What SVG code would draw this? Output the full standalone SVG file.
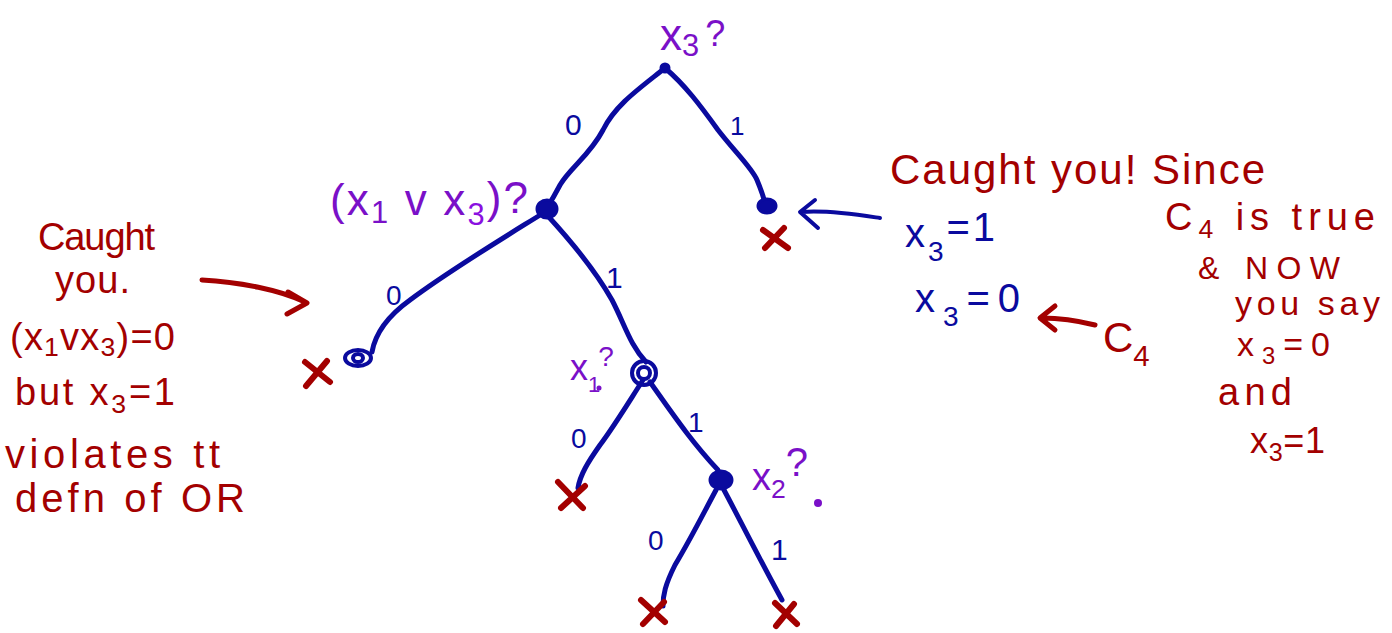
<svg xmlns="http://www.w3.org/2000/svg" width="1392" height="633" viewBox="0 0 1392 633">
<defs>
<style>
.edge{fill:none;stroke:#0a0a9e;stroke-width:5;stroke-linecap:round;stroke-linejoin:round}
.rarrow{fill:none;stroke:#a30000;stroke-width:5;stroke-linecap:round;stroke-linejoin:round}
.barrow{fill:none;stroke:#0a0a9e;stroke-width:4;stroke-linecap:round;stroke-linejoin:round}
.cross{fill:none;stroke:#a30000;stroke-width:6;stroke-linecap:round}
.dot{fill:#0a0a9e;stroke:#0a0a9e;stroke-width:3}
.ring{fill:none;stroke:#0a0a9e;stroke-width:4}
.blue{font-family:"Liberation Sans",Arial,sans-serif;fill:#0a0a9e}
.purple{font-family:"Liberation Sans",Arial,sans-serif;fill:#7a10c8}
.red{font-family:"Liberation Sans",Arial,sans-serif;fill:#a30000}
.sub{font-size:0.7em}
</style>
</defs>
<g id="connectors">
<path class="edge" d="M665,68 C640,88 615,105 603,130 C590,155 570,168 560,185 C553,198 550,204 545,210"/>
<path class="edge" d="M665,68 C685,85 700,105 718,130 C735,152 752,168 757,180 C762,192 764,198 765,204"/>
<path class="edge" d="M545,212 C500,240 450,270 410,300 C385,318 375,335 372,352"/>
<path class="edge" d="M547,215 C570,240 595,270 612,300 C625,325 630,345 646,362"/>
<path class="edge" d="M643,380 C630,400 615,425 600,445 C588,462 580,475 578,488"/>
<path class="edge" d="M650,382 C670,410 690,440 718,470"/>
<path class="edge" d="M716,490 C700,520 690,540 675,565 C665,585 663,595 663,606"/>
<path class="edge" d="M724,490 C740,520 760,560 782,600"/>
<path class="rarrow" d="M202,280 C240,282 280,290 305,302 M288,292 L307,303 L287,314"/>
<path class="barrow" d="M880,218 C860,215 830,210 802,212 M815,200 L800,212 L818,228"/>
<path class="rarrow" d="M1095,325 C1075,320 1060,318 1042,318 M1055,306 L1040,318 L1055,330"/>
</g>
<g id="root">
<circle class="dot" cx="665" cy="68" r="4"/>
<text class="purple" x="660" y="50" font-size="44">x<tspan class="sub" dy="6">3</tspan><tspan dy="-10" font-size="36" dx="6">?</tspan></text>
</g>
<g id="node-or">
<ellipse class="dot" cx="547" cy="209" rx="10" ry="9"/>
<text class="purple" x="330" y="215" font-size="44" textLength="198">(x<tspan class="sub" dy="8">1</tspan><tspan dy="-8"> v x</tspan><tspan class="sub" dy="10" fill="#8a10e0">3</tspan><tspan dy="-12">)?</tspan></text>
</g>
<g id="node-right">
<ellipse class="dot" cx="767" cy="206" rx="9" ry="7"/>
</g>
<g id="leaf-right"><path class="cross" d="M763,230 L788,248 M765,248 L784,228"/></g>
<g id="node-left-leaf">
<ellipse class="ring" cx="358" cy="358" rx="13" ry="8"/>
<ellipse class="ring" cx="358" cy="358" rx="5" ry="4"/>
</g>
<g id="leaf-left"><path class="cross" d="M305,362 L330,382 M306,386 L327,361"/></g>
<g id="node-x1">
<circle class="ring" cx="644" cy="373" r="12"/>
<circle class="ring" cx="644" cy="373" r="6"/>
<text class="purple" x="570" y="380" font-size="36">x<tspan font-size="22" dy="12">1</tspan><tspan font-size="28" dx="-2" dy="-26">?</tspan></text>
<circle cx="599" cy="388" r="2.5" fill="#7a10c8"/>
</g>
<g id="leaf-x1-0"><path class="cross" d="M558,482 L583,508 M561,508 L585,486"/></g>
<g id="node-x2">
<ellipse class="dot" cx="721" cy="480" rx="11" ry="9"/>
<text class="purple" x="752" y="490" font-size="38">x<tspan class="sub" dy="8">2</tspan><tspan dy="-22" font-size="40">?</tspan></text>
<circle cx="818" cy="503" r="4" fill="#7a10c8"/>
</g>
<g id="leaf-x2-0"><path class="cross" d="M641,600 L665,622 M643,624 L664,602"/></g>
<g id="leaf-x2-1"><path class="cross" d="M775,603 L797,624 M776,626 L794,604"/></g>
<g id="edge-labels">
<text class="blue" x="565" y="135" font-size="30">0</text>
<text class="blue" x="730" y="135" font-size="26">1</text>
<text class="blue" x="386" y="305" font-size="28">0</text>
<text class="blue" x="606" y="288" font-size="30">1</text>
<text class="blue" x="571" y="448" font-size="28">0</text>
<text class="blue" x="688" y="432" font-size="28">1</text>
<text class="blue" x="648" y="550" font-size="28">0</text>
<text class="blue" x="771" y="560" font-size="30">1</text>
</g>
<g id="note-left">
<text class="red" x="38" y="250" font-size="38" textLength="117">Caught</text>
<text class="red" x="55" y="293" font-size="38" textLength="75">you.</text>
<text class="red" x="10" y="350" font-size="38" textLength="165">(x<tspan class="sub" dy="6">1</tspan><tspan dy="-6">vx</tspan><tspan class="sub" dy="6">3</tspan><tspan dy="-6">)=0</tspan></text>
<text class="red" x="15" y="405" font-size="38" textLength="160">but x<tspan class="sub" dy="8">3</tspan><tspan dy="-8">=1</tspan></text>
<text class="red" x="5" y="468" font-size="40" textLength="215">violates tt</text>
<text class="red" x="15" y="512" font-size="40" textLength="230">defn of OR</text>
</g>
<g id="note-right">
<text class="red" x="890" y="184" font-size="42" textLength="375">Caught you!  Since</text>
<text class="red" x="1165" y="230" font-size="38" textLength="210">C<tspan class="sub" dy="8">4</tspan><tspan dy="-8"> is true</tspan></text>
<text class="red" x="1198" y="279" font-size="32" textLength="142">&amp; NOW</text>
<text class="red" x="1235" y="315" font-size="34" textLength="145">you say</text>
<text class="red" x="1237" y="356" font-size="34" textLength="93">x<tspan class="sub" dy="8">3</tspan><tspan dy="-8">=0</tspan></text>
<text class="red" x="1218" y="405" font-size="38" textLength="74">and</text>
<text class="red" x="1250" y="453" font-size="36" textLength="75">x<tspan class="sub" dy="8">3</tspan><tspan dy="-8">=1</tspan></text>
<text class="blue" x="905" y="247" font-size="40" textLength="90">x<tspan class="sub" dy="14">3</tspan><tspan dy="-20">=1</tspan></text>
<text class="blue" x="915" y="312" font-size="40" textLength="105">x<tspan class="sub" dy="14">3</tspan><tspan dy="-14">=0</tspan></text>
<text class="red" x="1103" y="352" font-size="42">C<tspan class="sub" dy="14">4</tspan></text>
</g>
</svg>
